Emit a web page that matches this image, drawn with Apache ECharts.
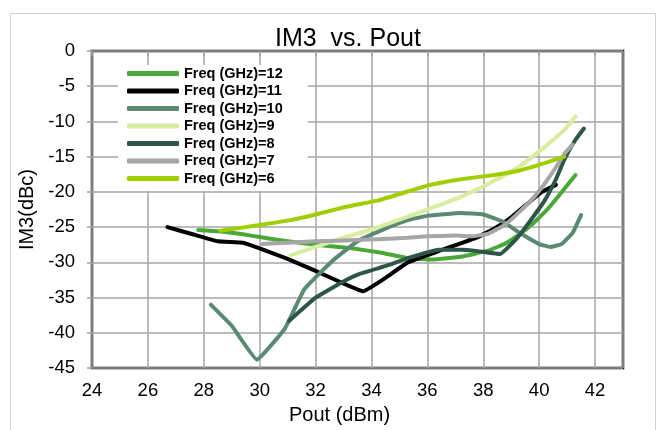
<!DOCTYPE html>
<html>
<head>
<meta charset="utf-8">
<script src="https://cdn.jsdelivr.net/npm/echarts@6/dist/echarts.min.js"></script>
<style>
html,body{margin:0;padding:0;background:#fff;}
#chart{width:660px;height:430px;}
</style>
</head>
<body>
<div id="chart"></div>
<script>
// Pout (dBm), IM3 (dBc) pairs
const f12 = [[27.8,-25.4],[28.6,-25.6],[29.4,-26.0],[30.0,-26.4],[31.0,-27.0],[32.0,-27.5],[33.3,-28.0],[34.3,-28.6],[35.3,-29.4],[36.2,-29.6],[37.2,-29.2],[38.2,-28.3],[38.8,-27.3],[39.3,-26.0],[39.8,-24.4],[40.4,-22.0],[41.3,-17.6]];
const f11 = [[26.7,-25.0],[27.6,-26.0],[28.5,-27.0],[29.4,-27.2],[30.0,-28.0],[31.0,-29.5],[32.0,-31.2],[33.0,-33.0],[33.7,-34.1],[34.5,-32.2],[35.3,-30.0],[36.4,-28.4],[37.8,-26.4],[38.4,-25.2],[39.0,-23.6],[39.6,-21.6],[40.1,-20.0],[40.6,-19.0]];
const f10 = [[28.25,-36.0],[29.0,-39.0],[29.9,-43.8],[30.9,-39.4],[31.6,-33.8],[32.6,-29.8],[33.5,-27.0],[34.5,-25.2],[35.3,-24.0],[36.0,-23.4],[37.2,-23.0],[38.0,-23.2],[38.7,-24.2],[39.3,-25.8],[40.0,-27.4],[40.4,-27.8],[40.8,-27.4],[41.2,-25.8],[41.5,-23.3]];
const f9  = [[31.1,-29.0],[32.0,-27.8],[33.0,-26.5],[34.25,-25.0],[35.3,-23.5],[36.2,-22.2],[37.2,-20.7],[38.2,-18.8],[39.25,-16.5],[40.2,-13.6],[40.9,-11.2],[41.3,-9.3]];
const f8  = [[31.05,-38.3],[32.0,-35.0],[33.0,-32.7],[33.6,-31.6],[34.6,-30.4],[35.3,-29.4],[36.4,-28.2],[37.2,-28.2],[37.8,-28.4],[38.6,-28.8],[39.2,-26.6],[39.7,-24.0],[40.2,-21.2],[40.6,-18.2],[40.9,-15.4],[41.3,-12.6],[41.6,-11.0]];
const f7  = [[30.1,-27.4],[31.0,-27.2],[32.0,-27.0],[33.0,-26.9],[34.25,-26.7],[35.3,-26.5],[36.0,-26.3],[37.0,-26.2],[37.6,-26.3],[38.2,-25.9],[38.8,-24.6],[39.3,-22.8],[39.8,-20.8],[40.2,-18.8],[40.6,-16.5],[40.9,-14.6],[41.2,-13.3]];
const f6  = [[28.6,-25.5],[30.0,-24.7],[31.1,-24.0],[32.0,-23.2],[33.1,-22.1],[34.25,-21.2],[35.0,-20.3],[36.0,-19.1],[37.2,-18.2],[38.4,-17.6],[39.25,-17.0],[40.2,-15.9],[40.9,-15.0]];

const seriesNames = ['Freq (GHz)=12','Freq (GHz)=11','Freq (GHz)=10','Freq (GHz)=9','Freq (GHz)=8','Freq (GHz)=7','Freq (GHz)=6'];
const seriesData = [f12, f11, f10, f9, f8, f7, f6];
const seriesColors = ['#4aa838','#000000','#5a8a73','#d9eca0','#2d554c','#a6a6a6','#9fcf00'];

const FONT = 'Liberation Sans, Arial, sans-serif';
const chart = echarts.init(document.getElementById('chart'), null, {renderer:'canvas'});
chart.setOption({
  animation: false,
  backgroundColor: '#fff',
  title: {
    text: 'IM3  vs. Pout',
    left: 270, top: 22,
    textStyle: {fontFamily: FONT, fontSize: 25, fontWeight: 'normal', color: '#000'}
  },
  graphic: [{
    type: 'rect', silent: true, z: -1,
    shape: {x: 10.5, y: 13.5, width: 645, height: 430},
    style: {fill: 'none', stroke: '#d0d0d0', lineWidth: 1}
  }],
  legend: {
    orient: 'vertical',
    left: 118, top: 65,
    padding: [1, 25, 5, 9],
    backgroundColor: '#fff',
    itemWidth: 52, itemHeight: 5, itemGap: 2.5,
    icon: 'roundRect',
    textStyle: {fontFamily: FONT, fontSize: 14.5, fontWeight: 'bold', color: '#000', lineHeight: 14},
    data: seriesNames
  },
  grid: {left: 92, right: 37, top: 51, bottom: 60, show: true, borderColor: '#000', borderWidth: 2.5, containLabel: false},
  xAxis: {
    type: 'value', min: 24, max: 43, interval: 2,
    name: 'Pout (dBm)', nameLocation: 'middle', nameGap: 33,
    nameTextStyle: {fontFamily: FONT, fontSize: 20, color: '#000', padding: [0, 36, 0, 0]},
    axisLine: {show: false},
    axisTick: {show: true, length: 5, lineStyle: {color: '#a0a0a0', width: 1.5}},
    axisLabel: {fontFamily: FONT, fontSize: 18.5, color: '#000', margin: 13, showMaxLabel: false},
    splitLine: {show: true, lineStyle: {color: '#a6a6a6', width: 1.5}}
  },
  yAxis: {
    type: 'value', min: -45, max: 0, interval: 5,
    name: 'IM3(dBc)', nameLocation: 'middle', nameGap: 49,
    nameTextStyle: {fontFamily: FONT, fontSize: 20, color: '#000'},
    axisLine: {show: false},
    axisTick: {show: true, length: 5, lineStyle: {color: '#a0a0a0', width: 1.5}},
    axisLabel: {fontFamily: FONT, fontSize: 18.5, color: '#000', margin: 17},
    splitLine: {show: true, lineStyle: {color: '#a6a6a6', width: 1.5}}
  },
  series: seriesNames.map((n, i) => ({
    name: n, type: 'line', data: seriesData[i],
    showSymbol: false, symbol: 'none', smooth: 0.1,
    color: seriesColors[i],
    lineStyle: {color: seriesColors[i], width: 4, cap: 'round', join: 'round'},
    z: 2 + i
  }))
});
</script>
</body>
</html>
